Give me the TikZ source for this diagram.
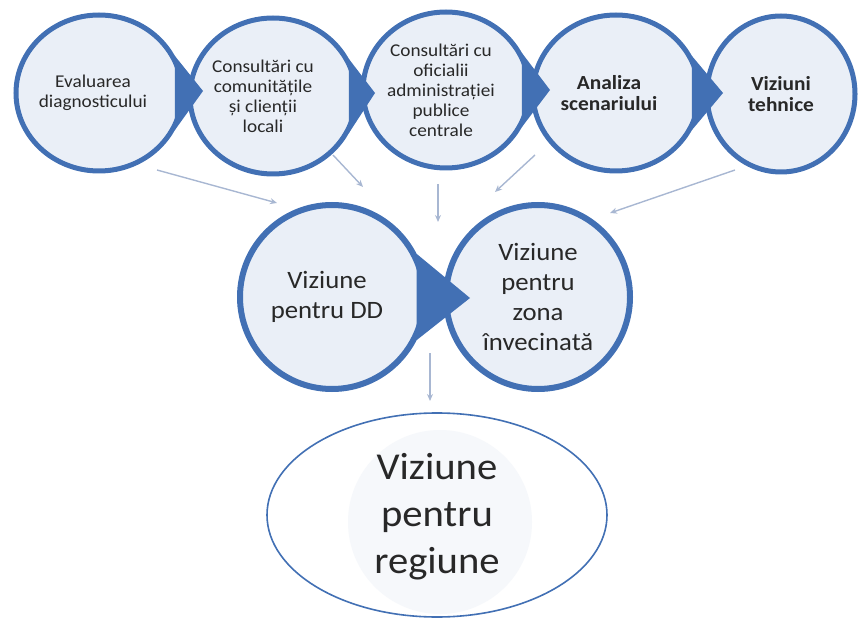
\documentclass[tikz,border=0pt]{standalone}
\usepackage{fontspec}
\setmainfont{Carlito}[FakeStretch=1.07]
\usepackage{tikz}
\usetikzlibrary{shapes.geometric, arrows.meta, positioning, calc}
\usepackage{xcolor}

\definecolor{ringblue}{RGB}{66,112,180}
\definecolor{discfill}{RGB}{234,239,247}
\definecolor{flowgrey}{RGB}{168,183,210}
\definecolor{inkgrey}{RGB}{40,40,40}

\begin{document}
\begin{tikzpicture}[
    x=1pt, y=-1pt,
    stage/.style={ellipse, draw=ringblue, line width=5pt, fill=discfill, inner sep=0pt, minimum width=166pt, minimum height=156pt},
    bigstage/.style={stage, line width=6pt, minimum width=184pt, minimum height=184pt},
    caption/.style={align=center, text=inkgrey, inner sep=0pt, font=\fontsize{18}{20}\selectfont},
    bold/.style={font=\fontsize{20}{21}\selectfont\bfseries},
    bigcaption/.style={caption, font=\fontsize{25}{30}\selectfont},
    goal/.style={ellipse, draw=ringblue, line width=1.6pt, fill=white, minimum width=340pt, minimum height=204pt},
    tip/.style={fill=ringblue},
    arrow/.style={-{Stealth[length=7pt, width=6pt]}, line width=1.4pt, draw=flowgrey}
]
    \useasboundingbox (0,0) rectangle (859,620);

    \node[stage] (eval)    at (99,93)  {};
    \node[stage] (locals)  at (273,96) {};
    \node[stage] (central) at (446,90) {};
    \node[stage] (scen)    at (616,93) {};
    \node[stage, minimum width=148pt] (tech) at (781,94) {};

    \fill[tip] (eval.26)    -- ($(eval.center)+(104,-2)$)    -- (eval.-26)    -- cycle;
    \fill[tip] (locals.26)  -- ($(locals.center)+(102,-3)$)  -- (locals.-26)  -- cycle;
    \fill[tip] (central.26) -- ($(central.center)+(104,0)$)  -- (central.-26) -- cycle;
    \fill[tip] (scen.26)    -- ($(scen.center)+(107,0)$)     -- (scen.-26)    -- cycle;

    \node[caption] (evaltxt)    at ($(eval)+(-6,0)$)     {Evaluarea\\diagnosticului};
    \node[caption] (localstxt)  at ($(locals)+(-10,0)$)  {Consultări cu\\comunitățile\\și clienții\\locali};
    \node[caption] (centraltxt) at ($(central)+(-5,0)$)  {Consultări cu\\oficialii\\administrației\\publice\\centrale};
    \node[caption, bold] (scentxt) at ($(scen)+(-7,0)$)  {Analiza\\scenariului};
    \node[caption, bold] (techtxt) at (tech)             {Viziuni\\tehnice};

    \node[bigstage] (dd)   at (332,297) {};
    \node[bigstage] (zone) at (538,297) {};
    \fill[tip] (dd.27) -- ($(dd.center)+(138,1)$) -- (dd.-27) -- cycle;
    \node[bigcaption] (ddtxt)   at ($(dd)+(-5,0)$) {Viziune\\pentru DD};
    \node[bigcaption] (zonetxt) at (zone)          {Viziune\\pentru\\zona\\învecinată};

    \node[goal] (region) at (437,515) {};
    \fill[discfill!45] (440,522) circle (92pt);
    \node[caption, font=\fontsize{38}{47}\selectfont] (regtxt) at (437,517) {Viziune\\pentru\\regiune};

    % connectors
    \coordinate (e1) at (157,170);  \coordinate (d1) at (277,203);
    \coordinate (e2) at (333,155);  \coordinate (d2) at (363,187);
    \coordinate (e3) at (438,184);  \coordinate (d3) at (438,222);
    \coordinate (e4) at (535,155);  \coordinate (d4) at (495,192);
    \coordinate (e5) at (735,170);  \coordinate (d5) at (610,213);
    \coordinate (e6) at (430,353);  \coordinate (d6) at (430,401);

    \draw[arrow] (e1) -- (d1);
    \draw[arrow] (e2) -- (d2);
    \draw[arrow] (e3) -- (d3);
    \draw[arrow] (e4) -- (d4);
    \draw[arrow] (e5) -- (d5);
    \draw[arrow] (e6) -- (d6);

\end{tikzpicture}
\end{document}
